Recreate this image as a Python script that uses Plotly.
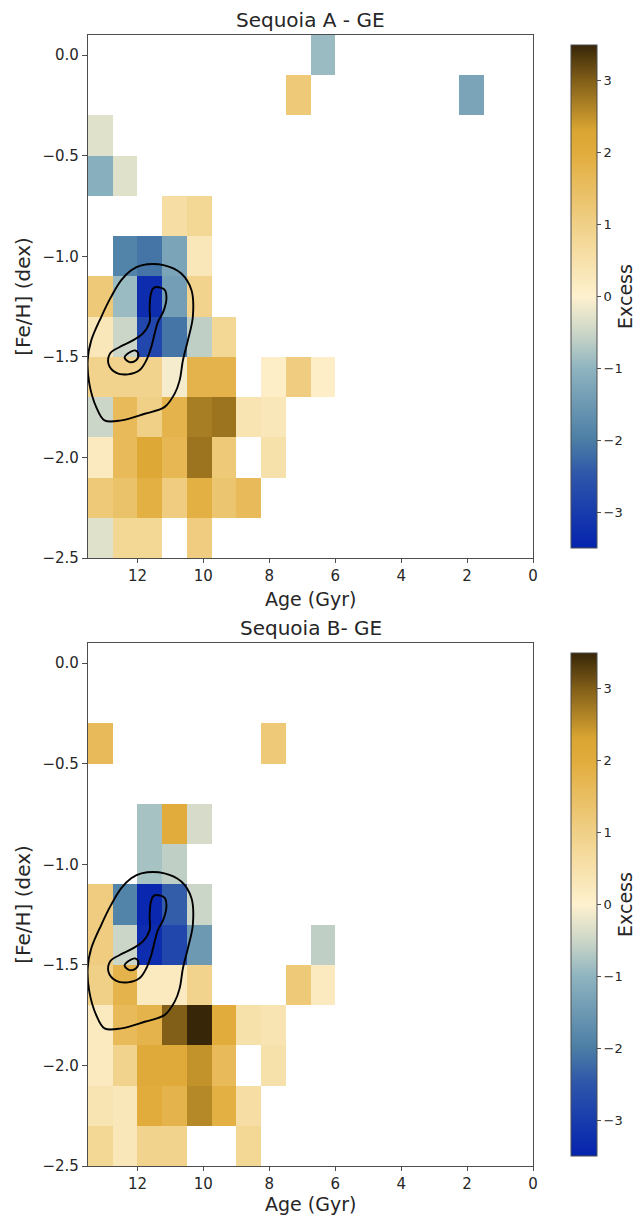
import plotly.graph_objects as go

# Bin edges (Gyr, dex)
age_edges = [13.5, 12.75, 12.0, 11.25, 10.5, 9.75, 9.0, 8.25, 7.5, 6.75, 6.0,
             5.25, 4.5, 3.75, 3.0, 2.25, 1.5, 0.75, 0.0]
feh_edges = [-2.5, -2.3, -2.1, -1.9, -1.7, -1.5, -1.3, -1.1, -0.9, -0.7, -0.5,
             -0.3, -0.1, 0.1]

N = None
# Excess values, rows from [Fe/H]=-2.4 (bottom) to 0.0 (top), columns from oldest age bin
excess_A = [
    [-0.3, 0.8, 0.8, N, 1.1],
    [1.2, 1.4, 1.9, 1.1, 1.9, 1.3, 1.6],
    [0.2, 1.6, 2.2, 1.7, 2.8, 1.2, N, 0.5],
    [-0.5, 1.6, 1.0, 1.8, 2.7, 2.8, 0.4, 0.3],
    [0.9, 0.9, 0.9, -0.1, 1.8, 1.8, N, 0.1, 1.1, 0.1],
    [0.3, -0.5, -2.8, -2.1, -0.6, 0.8],
    [1.2, -0.9, -3.3, -1.4, 0.9],
    [N, -1.9, -2.1, -1.3, 0.3],
    [N, N, N, 0.6, 0.8],
    [-1.1, -0.3],
    [-0.3],
    [N, N, N, N, N, N, N, N, 1.2, N, N, N, N, N, N, -1.3],
    [N, N, N, N, N, N, N, N, N, -0.9],
]
excess_B = [
    [0.8, 0.3, 0.9, 0.9, N, N, 0.8],
    [0.4, 0.3, 2.0, 1.8, 2.6, 1.9, 0.6],
    [0.2, 0.9, 2.1, 2.1, 2.5, 1.6, N, 0.5],
    [0.2, 1.6, 1.8, 3.0, 3.5, 2.0, 0.5, 0.4],
    [1.0, 1.8, 0.2, 0.2, 0.9, N, N, N, 1.2, 0.2],
    [1.1, -0.5, -3.3, -2.8, -1.5, N, N, N, N, -0.6],
    [1.1, -1.9, -3.4, -2.4, -0.5],
    [N, N, -0.8, -0.6],
    [N, N, -0.8, 2.0, -0.4],
    [],
    [1.6, N, N, N, N, N, N, 1.2],
    [],
    [],
]

# Density contours (age, [Fe/H])
outer_age = [11.88, 11.18, 10.67, 10.36, 10.32, 10.47, 10.62, 10.72, 10.87, 11.18, 11.78,
             12.49, 13.0, 13.25, 13.46, 13.51, 13.40, 13.10, 12.80, 12.49, 12.19, 11.88]
outer_feh = [-1.045, -1.045, -1.086, -1.169, -1.302, -1.418, -1.517, -1.617, -1.683, -1.75, -1.783,
             -1.816, -1.816, -1.75, -1.633, -1.517, -1.418, -1.302, -1.202, -1.119, -1.070, -1.045]
mid_age = [11.43, 11.18, 11.12, 11.20, 11.38, 11.48, 11.58, 11.73, 11.94, 12.29, 12.64, 12.88,
           12.82, 12.54, 12.14, 11.84, 11.63, 11.63, 11.60, 11.53, 11.43]
mid_feh = [-1.153, -1.166, -1.202, -1.269, -1.327, -1.385, -1.451, -1.517, -1.567, -1.587, -1.580,
           -1.534, -1.481, -1.451, -1.418, -1.385, -1.327, -1.260, -1.194, -1.161, -1.153]
inner_age = [12.39, 12.27, 12.07, 11.97, 12.04, 12.24, 12.39]
inner_feh = [-1.504, -1.481, -1.468, -1.488, -1.517, -1.526, -1.504]

titles = ["Sequoia A - GE", "Sequoia B- GE"]
xlabel = "Age (Gyr)"
ylabel = "[Fe/H] (dex)"

colorscale = [
    [0.0, "rgb(5,35,175)"], [0.143, "rgb(45,85,170)"], [0.214, "rgb(75,125,165)"],
    [0.357, "rgb(143,180,192)"], [0.43, "rgb(205,215,200)"], [0.5, "rgb(254,241,206)"],
    [0.643, "rgb(240,208,135)"], [0.786, "rgb(226,172,60)"], [0.83, "rgb(218,165,50)"],
    [0.929, "rgb(130,95,25)"], [1.0, "rgb(55,38,8)"],
]

ncols = len(age_edges) - 1


def pad(rows):
    return [list(r) + [None] * (ncols - len(r)) for r in rows]


FONT = "DejaVu Sans"
TXT = "#262626"
LINE = "#4d4d4d"

fig = go.Figure()
for i, (z, suffix) in enumerate([(excess_A, ""), (excess_B, "2")]):
    fig.add_trace(go.Heatmap(
        x=age_edges, y=feh_edges, z=pad(z), coloraxis="coloraxis" + suffix,
        xaxis="x" + suffix, yaxis="y" + suffix, hoverongaps=False))
    for ax, fy in [(outer_age, outer_feh), (mid_age, mid_feh), (inner_age, inner_feh)]:
        fig.add_trace(go.Scatter(
            x=ax, y=fy, mode="lines", line=dict(color="black", width=1.9, shape="spline", smoothing=1.0),
            xaxis="x" + suffix, yaxis="y" + suffix, showlegend=False, hoverinfo="skip"))

W, H = 637, 1215
ML, MR, MT, MB = 88, W - 532.7, 35, H - 1166
PW, PH = W - ML - MR, H - MT - MB
ydoms = [[(1166 - 558) / PH, 1.0], [0.0, (1166 - 643) / PH]]


def py(ypx):
    return (1166 - ypx) / PH


def xaxis_cfg(anchor):
    return dict(domain=[0, 1], range=[13.5, 0], tickvals=[12, 10, 8, 6, 4, 2, 0],
                ticks="outside", ticklen=4, tickwidth=1.2, tickcolor=LINE,
                showline=True, mirror=True, linecolor=LINE, linewidth=1.3,
                showgrid=False, zeroline=False, anchor=anchor, automargin=False,
                tickfont=dict(size=15, color=TXT, family=FONT))


def yaxis_cfg(anchor, dom):
    return dict(domain=dom, range=[-2.5, 0.1], tickvals=[-2.5, -2.0, -1.5, -1.0, -0.5, 0.0],
                tickformat=".1f", ticks="outside", ticklen=5, tickwidth=1.2, tickcolor=LINE,
                showline=True, mirror=True, linecolor=LINE, linewidth=1.3,
                showgrid=False, zeroline=False, anchor=anchor, automargin=False,
                tickfont=dict(size=15, color=TXT, family=FONT),
                title=dict(text=ylabel, font=dict(size=20, color=TXT, family=FONT), standoff=6))


def caxis(dom):
    return dict(cmin=-3.5, cmax=3.5, colorscale=colorscale,
                colorbar=dict(x=(561 - ML) / PW, xanchor="left", y=dom[1], yanchor="top",
                              len=dom[1] - dom[0], lenmode="fraction", thickness=26,
                              outlinewidth=1, outlinecolor=LINE, ticks="outside", ticklen=4,
                              tickcolor=LINE, tickvals=[-3, -2, -1, 0, 1, 2, 3],
                              tickfont=dict(size=13, color=TXT, family=FONT),
                              title=dict(text="Excess", side="right",
                                         font=dict(size=19, color=TXT, family=FONT))))


def text_ann(text, ypx, yanchor, size=20):
    return dict(text=text, x=0.5, y=py(ypx), xref="paper", yref="paper",
                xanchor="center", yanchor=yanchor, showarrow=False,
                font=dict(size=size, color=TXT, family=FONT))


fig.update_layout(
    width=W, height=H, margin=dict(l=ML, r=MR, t=MT, b=MB, pad=0, autoexpand=False),
    plot_bgcolor="white", paper_bgcolor="white",
    font=dict(family=FONT, color=TXT),
    xaxis=xaxis_cfg("y"), yaxis=yaxis_cfg("x", ydoms[0]),
    xaxis2=xaxis_cfg("y2"), yaxis2=yaxis_cfg("x2", ydoms[1]),
    coloraxis=caxis(ydoms[0]), coloraxis2=caxis(ydoms[1]),
    showlegend=False,
    annotations=[
        text_ann(titles[0], 20, "middle"),
        text_ann(titles[1], 628, "middle"),
        text_ann(xlabel, 612, "bottom", 19),
        text_ann(xlabel, 1217, "bottom", 19),
    ],
)

fig.write_html("out.html")
